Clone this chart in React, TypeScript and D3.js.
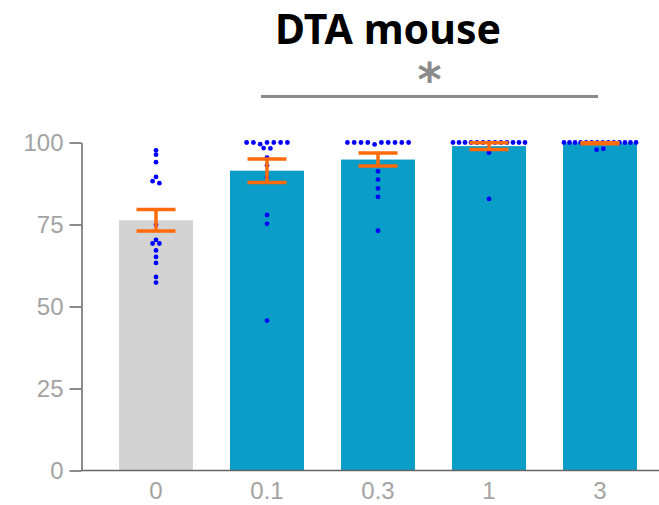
import React, { useRef, useEffect } from "react";
import * as d3 from "d3";

const doses = ["0", "0.1", "0.3", "1", "3"];
const means = [76.3, 91.4, 94.8, 98.9, 99.8];
const sems = [3.3, 3.6, 2.0, 1.05, 0.15];

// individual animals, per dose
const dose0 = [97.6, 96.3, 94.0, 89.5, 88.2, 87.6, 74.9, 70.3, 69.2, 69.2, 67.1, 65.1, 63.3, 59.0, 57.3];
const dose01 = [100, 100, 99.5, 100, 100, 100, 100, 98.3, 98.2, 95.4, 93.0, 89.4, 77.9, 75.2, 45.7];
const dose03 = [100, 100, 100, 100, 99.4, 100, 100, 100, 100, 100, 91.2, 88.7, 86.0, 83.4, 73.1];
const dose1 = [100, 100, 100, 100, 100, 100, 100, 100, 100, 100, 100, 100, 100, 96.9, 82.8];
const dose3 = [100, 100, 100, 100, 100, 100, 100, 100, 100, 100, 100, 100, 100, 100, 97.8, 98.1];
const points = [dose0, dose01, dose03, dose1, dose3];

const yTicks = [0, 25, 50, 75, 100];
const title = "DTA mouse";

const App = () => {
  const chartRef = useRef(null);

  useEffect(() => {
    if (!chartRef.current) return;
    const svg = d3.select(chartRef.current);
    svg.selectAll("*").remove();

    const x = d3.scaleBand()
      .domain(doses)
      .range([100.5, 655.5])
      .paddingInner(1 / 3)
      .paddingOuter(1 / 6);

    const y = d3.scaleLinear().domain([0, 100]).range([470.5, 142.5]);
    const axisX = 81.5;

    // bars
    svg.selectAll(".bar")
      .data(doses)
      .enter().append("rect")
      .attr("x", d => x(d))
      .attr("width", x.bandwidth())
      .attr("y", (d, i) => y(means[i]))
      .attr("height", (d, i) => y(0) - y(means[i]))
      .attr("fill", (d, i) => (i === 0 ? "#d3d3d3" : "#0a9dc7"));

    // dots, spread sideways where values pile up
    points.forEach((vals, i) => {
      const cx = x(doses[i]) + x.bandwidth() / 2;
      const order = vals.map((v, k) => k).sort((a, b) => vals[b] - vals[a] || a - b);
      const groups = [];
      order.forEach(k => {
        const g = groups[groups.length - 1];
        if (g && Math.abs(y(vals[g[g.length - 1]]) - y(vals[k])) < 3.2) g.push(k);
        else groups.push([k]);
      });
      groups.forEach(g => {
        g.sort((a, b) => a - b);
        const n = g.length;
        const gap = n > 1 ? Math.min(6.8, 72 / (n - 1)) : 0;
        g.forEach((k, j) => {
          svg.append("circle")
            .attr("cx", cx + (j - (n - 1) / 2) * gap)
            .attr("cy", y(vals[k]))
            .attr("r", 2.4)
            .attr("fill", "#0000ff");
        });
      });
    });

    // error bars
    const err = svg.append("g")
      .attr("stroke", "#ff6a0a")
      .attr("stroke-width", 3.5)
      .attr("fill", "none");
    doses.forEach((d, i) => {
      const cx = x(d) + x.bandwidth() / 2;
      const hi = y(means[i] + sems[i]);
      const lo = y(means[i] - sems[i]);
      err.append("line").attr("x1", cx).attr("x2", cx).attr("y1", hi).attr("y2", lo);
      err.append("line").attr("x1", cx - 19.5).attr("x2", cx + 19.5).attr("y1", hi).attr("y2", hi);
      err.append("line").attr("x1", cx - 19.5).attr("x2", cx + 19.5).attr("y1", lo).attr("y2", lo);
    });

    // y axis
    const yAxis = svg.append("g")
      .attr("transform", "translate(" + axisX + ",0)")
      .call(d3.axisLeft(y).tickValues(yTicks).tickSize(12).tickSizeOuter(0).tickPadding(6));
    yAxis.select(".domain").attr("stroke", "#666").attr("stroke-width", 1.5);
    yAxis.selectAll(".tick line").attr("stroke", "#666").attr("stroke-width", 1.5);
    yAxis.selectAll("text")
      .attr("font-family", "Liberation Sans, Arial, sans-serif")
      .attr("font-size", 24)
      .attr("fill", "#a3a3a3");

    // x axis
    svg.append("line")
      .attr("x1", axisX).attr("x2", 659)
      .attr("y1", y(0)).attr("y2", y(0))
      .attr("stroke", "#666").attr("stroke-width", 1.5);
    svg.selectAll(".xlab")
      .data(doses)
      .enter().append("text")
      .attr("x", d => x(d) + x.bandwidth() / 2)
      .attr("y", 498.5)
      .attr("text-anchor", "middle")
      .attr("font-family", "Liberation Sans, Arial, sans-serif")
      .attr("font-size", 24)
      .attr("fill", "#a3a3a3")
      .text(d => d);

    // significance bracket
    const x1 = x("0.1") + x.bandwidth() / 2 - 6;
    const x2 = x("3") + x.bandwidth() / 2 - 2;
    svg.append("line")
      .attr("x1", x1).attr("x2", x2)
      .attr("y1", 96.5).attr("y2", 96.5)
      .attr("stroke", "#8a8a8a").attr("stroke-width", 3);
    svg.append("text")
      .attr("x", (x1 + x2) / 2)
      .attr("y", 96)
      .attr("text-anchor", "middle")
      .attr("font-family", "DejaVu Sans, sans-serif")
      .attr("font-weight", "bold")
      .attr("font-size", 46)
      .attr("fill", "#8a8a8a")
      .text("*");

    svg.append("text")
      .attr("x", 388)
      .attr("y", 44)
      .attr("text-anchor", "middle")
      .attr("font-family", "Noto Sans, sans-serif")
      .attr("font-weight", "bold")
      .attr("font-size", 41)
      .attr("fill", "#000")
      .text(title);
  }, []);

  return (
    <svg
      ref={chartRef}
      width={659}
      height={505}
      style={{ position: "absolute", left: 0, top: 0, background: "#fff" }}
    ></svg>
  );
};

export default App;
